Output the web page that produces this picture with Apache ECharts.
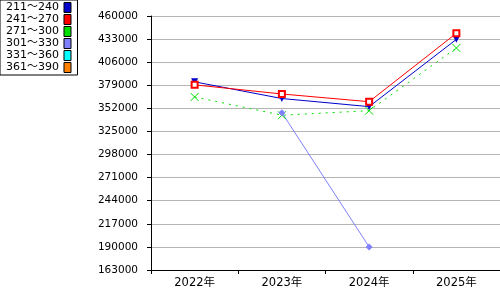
<!DOCTYPE html>
<html><head><meta charset="utf-8">
<script src="https://cdn.jsdelivr.net/npm/echarts@6/dist/echarts.min.js"></script>
<style>html,body{margin:0;padding:0;background:#fff}#c{width:500px;height:300px}</style>
</head><body><div id="c"></div>
<script>
const categories = ['2022年', '2023年', '2024年', '2025年'];
const legendNames = ['211～240', '241～270', '271～300', '301～330', '331～360', '361～390'];
const s211 = [383000, 363500, 354000, 432700];
const s241 = [379500, 368800, 359800, 439800];
const s271 = [365300, 344000, 349300, 422600];
const s301 = [null, 347000, 190000, null];
const s331 = [null, null, null, null];
const s361 = [null, null, null, null];
const yMin = 163000, yMax = 460000, yStep = 27000;

const font = '"DejaVu Sans", "Noto Sans CJK JP", sans-serif';
const chart = echarts.init(document.getElementById('c'), null, {renderer: 'canvas'});
const xPath = 'path://M0,0L10,10M10,0L0,10';
chart.setOption({
  animation: false,
  backgroundColor: '#fff',
  grid: {left: 151, right: 0, top: 16, bottom: 30},
  legend: {
    orient: 'vertical', left: 0, top: 0,
    align: 'right',
    icon: 'rect', itemWidth: 7, itemHeight: 10, itemGap: 1,
    padding: [2, 6, 2, 6],
    borderColor: '#000', borderWidth: 1, backgroundColor: '#fff',
    itemStyle: {borderColor: '#000', borderWidth: 1},
    textStyle: {fontFamily: font, fontSize: 11, color: '#000', lineHeight: 11},
    data: legendNames
  },
  xAxis: {
    type: 'category', data: categories, boundaryGap: true,
    axisLine: {lineStyle: {color: '#000', width: 1}},
    axisTick: {show: true, length: 4, lineStyle: {color: '#000'}},
    axisLabel: {fontFamily: font, fontSize: 11.5, color: '#000', margin: 7},
    splitLine: {show: false}
  },
  yAxis: {
    type: 'value', min: yMin, max: yMax, interval: yStep,
    axisLine: {show: true, lineStyle: {color: '#000', width: 1}},
    axisTick: {show: true, length: 4, lineStyle: {color: '#000'}},
    axisLabel: {fontFamily: font, fontSize: 10.5, color: '#000', margin: 13,
                formatter: v => String(v)},
    splitLine: {show: true, lineStyle: {color: '#b4b4b4', width: 1}}
  },
  series: [
    {name: legendNames[0], type: 'line', data: s211,
     symbol: 'triangle', symbolRotate: 180, symbolSize: 7,
     lineStyle: {width: 1, color: '#0000cc'}, itemStyle: {color: '#0000cc'}},
    {name: legendNames[1], type: 'line', data: s241,
     symbol: 'emptyRect', symbolSize: 6,
     lineStyle: {width: 1, color: '#ff0000'}, itemStyle: {color: '#ff0000', borderWidth: 1.2}},
    {name: legendNames[2], type: 'line', data: s271,
     symbol: xPath, symbolSize: 8,
     lineStyle: {width: 1, color: '#00e000', type: [2, 5]}, itemStyle: {color: '#00e000', borderColor: '#00e000', borderWidth: 1}},
    {name: legendNames[3], type: 'line', data: s301,
     symbol: 'diamond', symbolSize: 7,
     lineStyle: {width: 1, color: '#8080ff'}, itemStyle: {color: '#8080ff'}},
    {name: legendNames[4], type: 'line', data: s331, itemStyle: {color: '#00ffff'}},
    {name: legendNames[5], type: 'line', data: s361, itemStyle: {color: '#ff8000'}}
  ]
});
</script></body></html>
